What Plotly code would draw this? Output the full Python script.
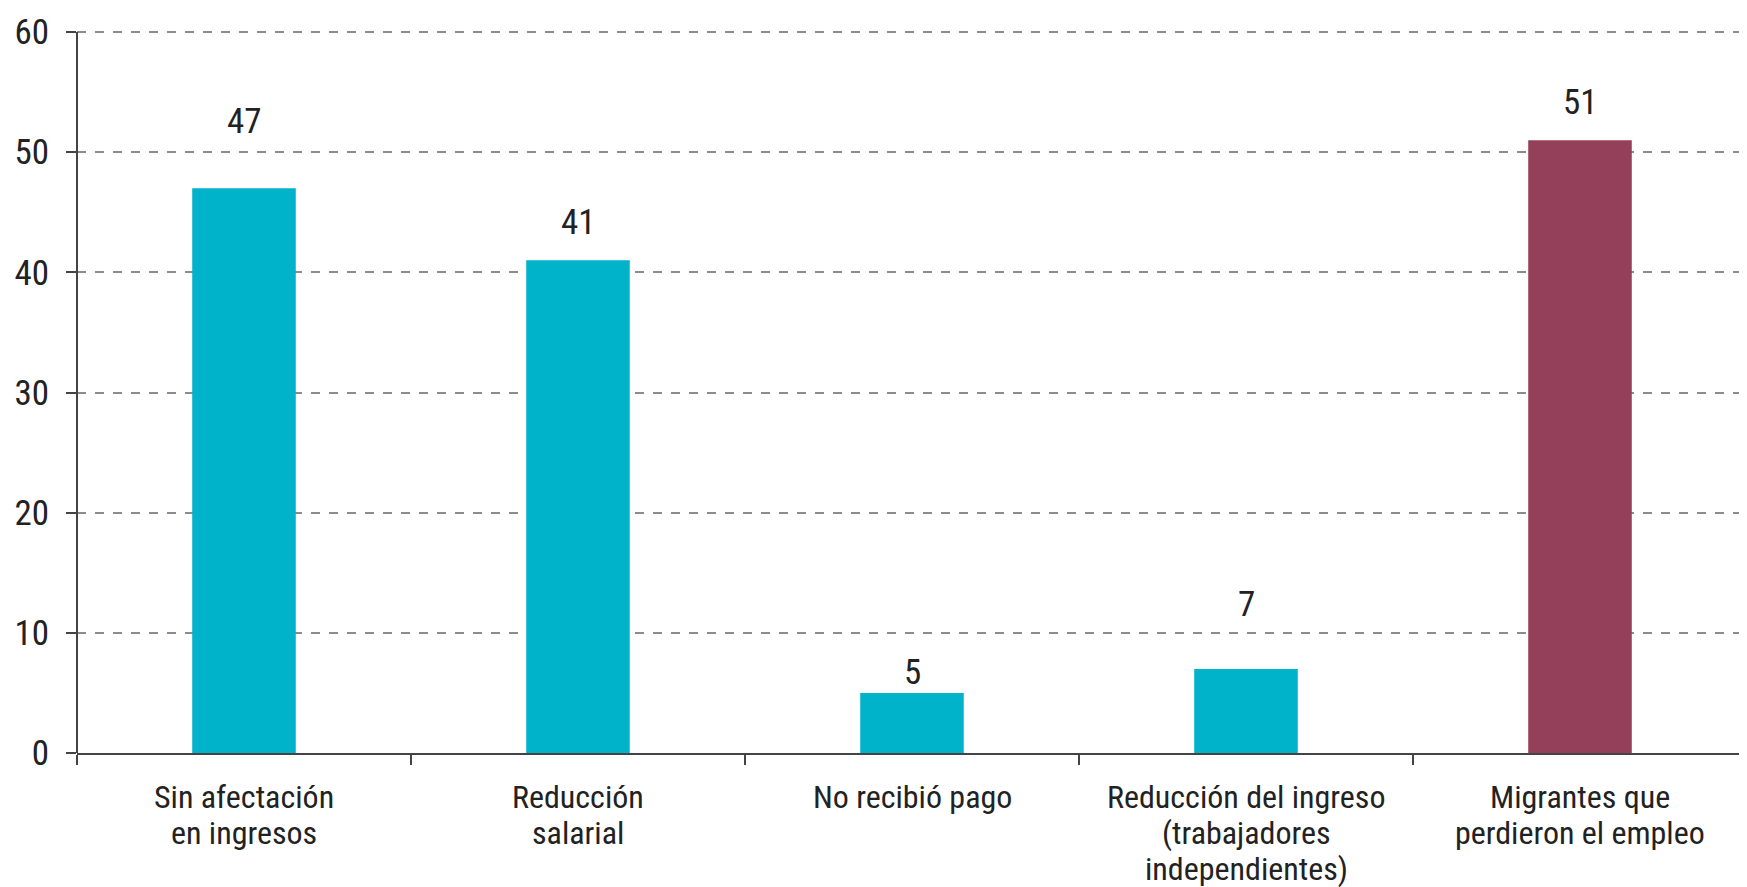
import plotly.graph_objects as go

# categories and values
categorias = ['Sin afectación<br>en ingresos', 'Reducción<br>salarial', 'No recibió pago',
              'Reducción del ingreso<br>(trabajadores<br>independientes)',
              'Migrantes que<br>perdieron el empleo']
valores = [47, 41, 5, 7, 51]
colores = ['#00B2CA', '#00B2CA', '#00B2CA', '#00B2CA', '#95405A']
y_ticks = [0, 10, 20, 30, 40, 50, 60]

# vertical offset of each value label centre above its bar (px)
label_shift = [67, 38, 20, 64, 38]

FONT = "Liberation Sans Narrow, Roboto Condensed, Arial Narrow, sans-serif"

fig = go.Figure()
fig.add_trace(go.Bar(x=categorias, y=valores, marker=dict(color=colores, line=dict(width=0)),
                     width=0.31, hoverinfo='skip'))

for cat, v, s in zip(categorias, valores, label_shift):
    fig.add_annotation(x=cat, y=v, text=str(v), showarrow=False, yanchor='middle', yshift=s,
                       font=dict(size=35, color='#222222', family=FONT))

# category labels drawn line by line so the line spacing stays tight
for cat in categorias:
    for i, line in enumerate(cat.split('<br>')):
        fig.add_annotation(x=cat, y=0, yref='paper', text=line, showarrow=False,
                           yanchor='top', yshift=-23 - 36 * i,
                           font=dict(size=32, color='#222222', family=FONT))

# y axis line stops at the last tick (60), like the original
fig.add_shape(type='line', xref='paper', x0=0, x1=0, yref='y', y0=0, y1=y_ticks[-1],
              line=dict(color='#444444', width=2))

fig.update_layout(
    width=1747, height=887,
    margin=dict(l=69, r=8, t=12, b=142),
    plot_bgcolor='white', paper_bgcolor='white',
    showlegend=False,
    font=dict(family=FONT, size=34, color='#222222'),
)
fig.update_yaxes(range=[0, 61], tickvals=y_ticks, showgrid=True, gridcolor='#8c8c8c',
                 griddash='dash', gridwidth=1.5, showline=False,
                 ticks='outside', ticklen=10, tickcolor='#444444', tickwidth=2,
                 zeroline=False, tickfont=dict(size=35), ticklabelstandoff=10, automargin=False)
fig.update_xaxes(showline=True, linecolor='#444444', linewidth=2, ticks='outside',
                 tickson='boundaries', ticklen=10, tickcolor='#444444', tickwidth=2,
                 showgrid=False, showticklabels=False, automargin=False)

fig.write_html("out.html")
